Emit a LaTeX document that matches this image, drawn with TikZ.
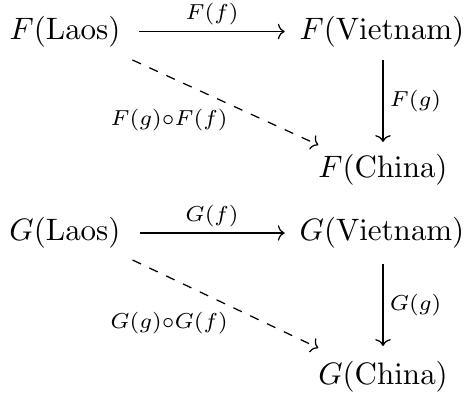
\documentclass[tikz,border=0pt]{standalone}
\usetikzlibrary{arrows.meta}
\begin{document}
\begin{tikzpicture}[x=0.3226pt,y=-0.3226pt,
  obj/.style={inner sep=0pt,outer sep=0pt},
  lab/.style={inner sep=0pt,font=\scriptsize},
  arr/.style={-{To[length=2.2pt,width=5pt]},line width=0.4pt},
  darr/.style={arr,dashed}]
\useasboundingbox (0,0) rectangle (465,396);
% F diagram
\node[obj] (FL) at (65,31.5) {$F(\mathrm{Laos})$};
\node[obj] (FV) at (382,31.5) {$F(\mathrm{Vietnam})$};
\node[obj] (FC) at (383,170) {$F(\mathrm{China})$};
\draw[arr] ([shift={(19,0)}]FL.east) -- node[lab,above=1.8pt]{$F(f)$} ([shift={(-15,0)}]FV.west);
\draw[arr] ([shift={(1,13)}]FV.south) -- node[lab,right=2pt]{$F(g)$} ([shift={(0,-12.5)}]FC.north);
\draw[darr] ([shift={(12,13)}]FL.south east) -- ([shift={(0,-9.5)}]FC.north west);
\node[lab] (FGF) at (169,120) {$F(g){\circ}F(f)$};
% G diagram
\node[obj] (GL) at (65,233) {$G(\mathrm{Laos})$};
\node[obj] (GV) at (382,233) {$G(\mathrm{Vietnam})$};
\node[obj] (GC) at (383,377) {$G(\mathrm{China})$};
\draw[arr] ([shift={(19,0)}]GL.east) -- node[lab,above=1.8pt]{$G(f)$} ([shift={(-15,0)}]GV.west);
\draw[arr] ([shift={(1,16)}]GV.south) -- node[lab,right=2pt]{$G(g)$} ([shift={(0,-15.5)}]GC.north);
\draw[darr] ([shift={(12,11.5)}]GL.south east) -- ([shift={(0,-13.5)}]GC.north west);
\node[lab] (GGF) at (169,323) {$G(g){\circ}G(f)$};
\end{tikzpicture}
\end{document}
